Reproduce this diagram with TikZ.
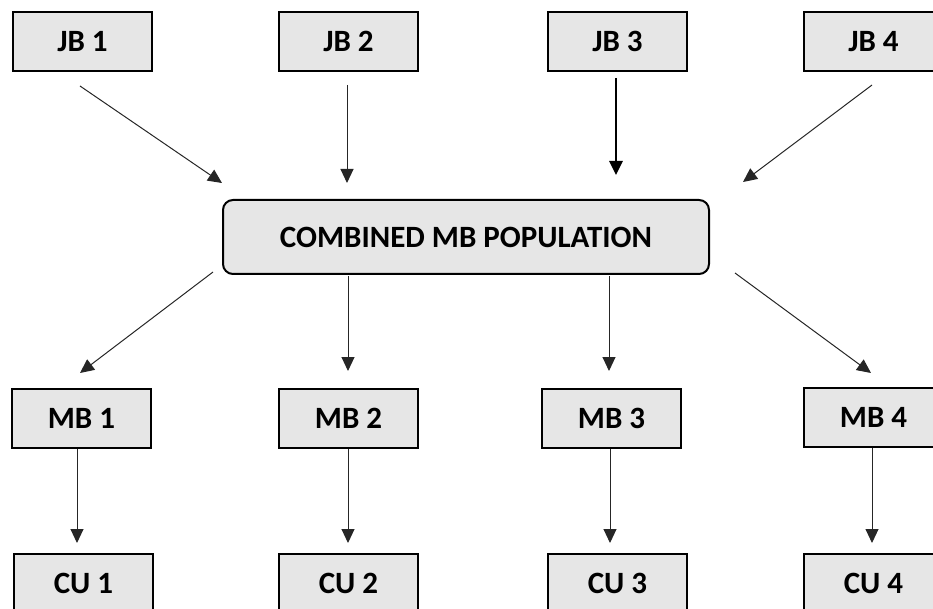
\documentclass[tikz,border=0pt]{standalone}
\usepackage{fontspec}
\setmainfont{Carlito}
\usetikzlibrary{arrows.meta}
\definecolor{boxfill}{HTML}{E6E6E6}
\newcommand\myboxfont{\fontsize{31pt}{36pt}\selectfont\bfseries}
\tikzset{
  x=1pt,y=-1pt,
  box/.style={draw=black,line width=2pt,fill=boxfill,minimum width=139pt,minimum height=59pt,inner sep=0pt,font=\myboxfont,anchor=north west},
  bigbox/.style={box,rounded corners=10pt,minimum width=486pt,minimum height=74pt},
  conn/.style={line width=1pt,draw=black!85,-{Triangle[length=14pt,width=13pt]}},
  thickconn/.style={line width=2.8pt,draw=black,-{Triangle[length=14pt,width=13pt]}}
}
\begin{document}
\begin{tikzpicture}
\useasboundingbox (0,0) rectangle (933,609);
\clip (0,0) rectangle (933,609);
% top row
\node[box] (jb1) at (12,11) {JB 1};
\node[box] (jb2) at (278,11) {JB 2};
\node[box] (jb3) at (547,11) {JB 3};
\node[box] (jb4) at (803,11) {JB 4};
% combined
\node[bigbox] (comb) at (222,199) {COMBINED MB POPULATION};
% middle row
\node[box] (mb1) at (11,388) {MB 1};
\node[box] (mb2) at (278,388) {MB 2};
\node[box] (mb3) at (541,388) {MB 3};
\node[box] (mb4) at (803,387) {MB 4};
% bottom row
\node[box] (cu1) at (13,553) {CU 1};
\node[box] (cu2) at (278,553) {CU 2};
\node[box] (cu3) at (547,553) {CU 3};
\node[box] (cu4) at (803,553) {CU 4};
% connector end points
\coordinate (s1) at (80,86);   \coordinate (t1) at (222,183);
\coordinate (s2) at (347,85);  \coordinate (t2) at (347,183);
\coordinate (s3) at (616,78);  \coordinate (t3) at (616,175);
\coordinate (s4) at (872,85);  \coordinate (t4) at (743,182);
\coordinate (u1) at (213,272); \coordinate (v1) at (80,373);
\coordinate (u2) at (348,276); \coordinate (v2) at (348,371);
\coordinate (u3) at (609,276); \coordinate (v3) at (609,371);
\coordinate (u4) at (735,273); \coordinate (v4) at (871,373);
\coordinate (w1) at (77,543);
\coordinate (w2) at (348,543);
\coordinate (w3) at (610,543);
\coordinate (w4) at (872,543);
\draw[conn] (s1) -- (t1);
\draw[conn] (s2) -- (t2);
\draw[thickconn] (s3) -- (t3);
\draw[conn] (s4) -- (t4);
\draw[conn] (u1) -- (v1);
\draw[conn] (u2) -- (v2);
\draw[conn] (u3) -- (v3);
\draw[conn] (u4) -- (v4);
\draw[conn] (mb1.south -| w1) -- (w1);
\draw[conn] (mb2.south -| w2) -- (w2);
\draw[conn] (mb3.south -| w3) -- (w3);
\draw[conn] (mb4.south -| w4) -- (w4);
\end{tikzpicture}
\end{document}
